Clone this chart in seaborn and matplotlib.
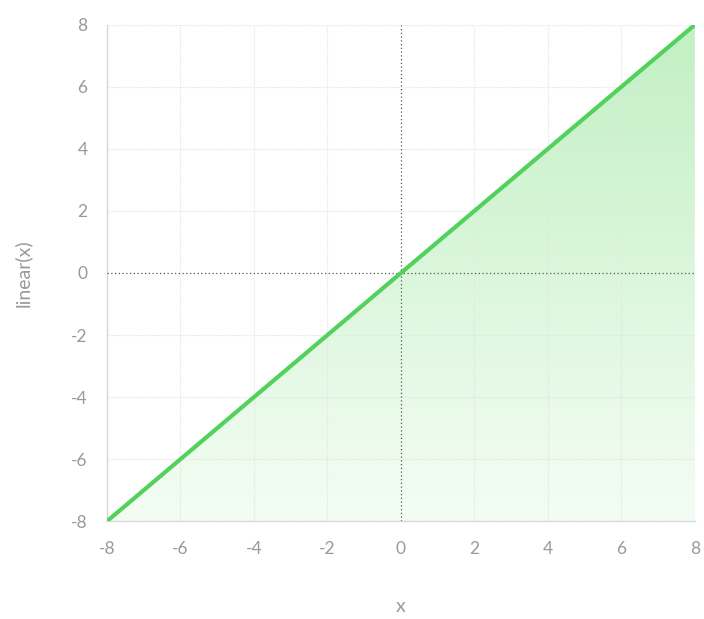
import numpy as np
import pandas as pd
import matplotlib
matplotlib.use("Agg")
import matplotlib.pyplot as plt
import seaborn as sns
from matplotlib.colors import LinearSegmentedColormap

x_vals = [-8, -6, -4, -2, 0, 2, 4, 6, 8]
y_vals = [-8, -6, -4, -2, 0, 2, 4, 6, 8]
tick_vals = [-8, -6, -4, -2, 0, 2, 4, 6, 8]

sns.set_theme(style="white")
plt.rcParams['font.family'] = ['Lato', 'DejaVu Sans']
plt.rcParams['axes.unicode_minus'] = False

fig = plt.figure(figsize=(7.04, 6.19), dpi=100)
ax = fig.add_axes([0.152, 0.158, 0.835, 0.802])

df = pd.DataFrame({"x": x_vals, "y": y_vals})

# gradient fill under the line
poly = ax.fill_between(df["x"], df["y"], -8, color="none", lw=0)
cmap = LinearSegmentedColormap.from_list("g", ["#f4fdf4", "#c2f0c3"])
grad = np.linspace(0, 1, 256).reshape(-1, 1)
im = ax.imshow(grad, extent=[-8, 8, -8, 8], origin="lower", cmap=cmap,
               aspect="auto", zorder=1)
path = poly.get_paths()[0]
im.set_clip_path(path, transform=ax.transData)

sns.lineplot(data=df, x="x", y="y", ax=ax, color="#52d25c", lw=3, zorder=4)

ax.set_xlim(-8, 8)
ax.set_ylim(-8, 8)
ax.set_xticks(tick_vals)
ax.set_yticks(tick_vals)
for v in tick_vals:
    if v == 0:
        continue
    ax.axvline(v, color="#e4e4e4", lw=0.8, ls=(0, (1, 1)), zorder=2)
    ax.axhline(v, color="#e4e4e4", lw=0.8, ls=(0, (1, 1)), zorder=2)
ax.axvline(0, color="#555555", lw=0.9, ls=(0, (1, 2)), zorder=3)
ax.axhline(0, color="#555555", lw=0.9, ls=(0, (1, 2)), zorder=3)

for s in ["top", "right"]:
    ax.spines[s].set_visible(False)
for s in ["left", "bottom"]:
    ax.spines[s].set_color("#d8d8d8")
    ax.spines[s].set_linewidth(1)

ax.tick_params(axis="both", colors="#999999", labelsize=12.5, length=0, pad=14)
ax.set_xlabel("x", color="#999999", fontsize=14, labelpad=30)
ax.set_ylabel("linear(x)", color="#999999", fontsize=14, labelpad=28)

fig.savefig("out.png", dpi=100)
